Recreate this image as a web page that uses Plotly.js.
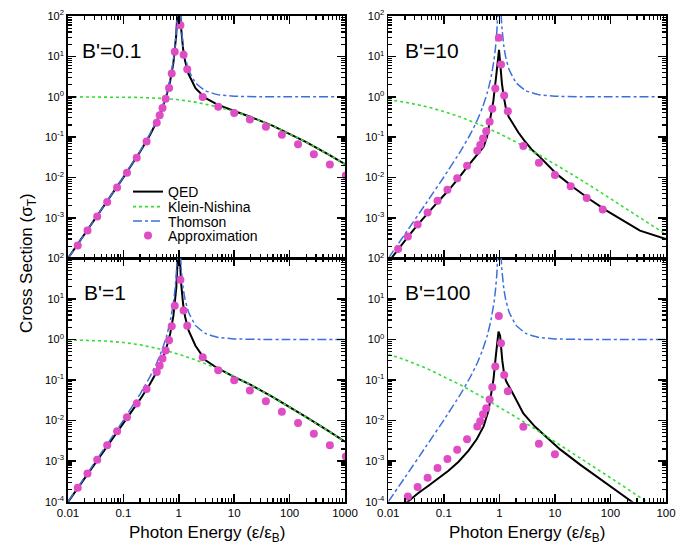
<!DOCTYPE html>
<html>
<head>
<meta charset="utf-8">
<script src="https://cdn.plot.ly/plotly-3.0.1.min.js"></script>
<style>html,body{margin:0;padding:0;background:#fff;}#chart{width:692px;height:557px;}</style>
</head>
<body>
<div id="chart"></div>
<script>
// ---------- data ----------
const panelLabels = ["B'=0.1", "B'=10", "B'=1", "B'=100"];

// Thomson (magnetic) cross section — same in every panel
const thomsonX = [0.01, 0.02, 0.05, 0.1, 0.2, 0.3, 0.4, 0.5, 0.6, 0.7, 0.8, 0.85, 0.9, 0.95, 0.98, 1.02, 1.05, 1.1, 1.2, 1.3, 1.5, 2, 3, 5, 10, 30, 100, 1000];
const thomsonY = [1.0e-4, 4.0e-4, 2.52e-3, 0.0103, 0.0451, 0.1185, 0.263, 0.556, 1.195, 2.81, 8.1, 16.2, 40.6, 180, 1200, 1300, 220, 60.6, 18.1, 9.55, 4.68, 2.22, 1.41, 1.13, 1.03, 1.003, 1.0, 1.0];

// Klein-Nishina
const knX = [0.01, 0.02, 0.05, 0.1, 0.2, 0.5, 1, 2, 5, 10, 20, 50, 100, 200, 500, 1000];
const knY_01  = [0.998, 0.996, 0.990, 0.9805, 0.962, 0.9115, 0.841, 0.737, 0.563, 0.431, 0.314, 0.191, 0.1228, 0.0754, 0.0376, 0.0215];
const knY_1   = [0.9805, 0.962, 0.9115, 0.841, 0.737, 0.563, 0.431, 0.314, 0.191, 0.1228, 0.0754, 0.0376, 0.0215, 0.0121, 0.00554, 0.00303];
const knY_10  = [0.841, 0.737, 0.563, 0.431, 0.314, 0.191, 0.1228, 0.0754, 0.0376, 0.0215, 0.0121, 0.00554, 0.00303, 0.00165, 0.000728, 0.00039];
const knY_100 = [0.431, 0.314, 0.191, 0.1228, 0.0754, 0.0376, 0.0215, 0.0121, 0.00554, 0.00303, 0.00165, 0.000728, 0.00039, 0.000208, 0.0000901, 0.0000477];

// QED
const qedX_lo = [0.01, 0.02, 0.05, 0.1, 0.2, 0.3, 0.4, 0.5, 0.6, 0.7, 0.8, 0.85, 0.9, 0.95, 0.98, 1.02, 1.05, 1.1, 1.2, 1.3, 1.5, 2, 3, 5, 10, 20, 50, 100, 200, 500, 1000];
const qedY_01 = [1.0e-4, 4.0e-4, 2.49e-3, 0.0101, 0.0434, 0.112, 0.244, 0.507, 1.07, 2.49, 7.05, 14.0, 34.7, 153, 1020, 1090, 184, 50.3, 14.75, 7.64, 3.65, 1.64, 0.935, 0.636, 0.444, 0.315, 0.191, 0.1228, 0.0754, 0.0376, 0.0215];
const qedY_1  = [9.8e-5, 3.85e-4, 2.30e-3, 8.66e-3, 0.0332, 0.0786, 0.160, 0.313, 0.63, 1.40, 3.85, 7.5, 18.5, 80, 525, 553, 93, 24.8, 7.15, 3.63, 1.66, 0.70, 0.31, 0.195, 0.12, 0.0756, 0.0376, 0.0215, 0.0121, 0.00554, 0.00303];
const qedX_10 = [0.01, 0.015, 0.0225, 0.0337, 0.051, 0.077, 0.116, 0.174, 0.262, 0.4, 0.52, 0.6, 0.68, 0.78, 0.87, 0.94, 0.985, 1.036, 1.11, 1.2, 1.3, 1.47, 1.8, 2.2, 2.9, 3.9, 5.4, 10.7, 21.4, 42.8, 85, 170, 340, 1000];
const qedY_10 = [8.0e-5, 1.7e-4, 3.4e-4, 6.7e-4, 1.3e-3, 2.45e-3, 4.5e-3, 8.7e-3, 0.0182, 0.037, 0.058, 0.103, 0.25, 0.8, 3.0, 9.0, 14.5, 6.7, 2.15, 1.0, 0.55, 0.32, 0.20, 0.13, 0.078, 0.048, 0.032, 0.0123, 5.75e-3, 2.85e-3, 1.52e-3, 8.6e-4, 4.85e-4, 3.0e-4];
const qedX_100 = [0.02, 0.0223, 0.0348, 0.0528, 0.080, 0.121, 0.184, 0.278, 0.393, 0.519, 0.638, 0.713, 0.785, 0.864, 0.935, 0.965, 1.03, 1.07, 1.13, 1.22, 1.32, 1.79, 2.7, 4.4, 7.1, 12.4, 28.4, 57, 113, 243, 300];
const qedY_100 = [8.8e-5, 1.0e-4, 1.64e-4, 2.48e-4, 3.77e-4, 5.8e-4, 9.7e-4, 1.82e-3, 3.5e-3, 7.2e-3, 0.0177, 0.0414, 0.107, 0.40, 1.1, 1.55, 1.23, 0.63, 0.295, 0.138, 0.094, 0.044, 0.015, 7.0e-3, 3.9e-3, 1.95e-3, 8.2e-4, 4.2e-4, 2.17e-4, 1.0e-4, 7.8e-5];

// Approximation (dots)
const apX_01 = [0.015, 0.0225, 0.0337, 0.051, 0.077, 0.116, 0.174, 0.262, 0.40, 0.452, 0.508, 0.58, 0.667, 0.745, 0.845, 1.07, 1.22, 1.42, 2.7, 5.15, 10, 19.2, 37.3, 72.5, 142, 274, 533, 1035];
const apY_01 = [2.06e-4, 4.85e-4, 1.08e-3, 2.49e-3, 5.65e-3, 0.0131, 0.0308, 0.0776, 0.228, 0.347, 0.53, 0.89, 1.66, 3.76, 13, 59, 11, 4.77, 0.98, 0.57, 0.394, 0.274, 0.180, 0.114, 0.067, 0.0379, 0.021, 0.0112];
const apX_1 = [0.015, 0.0225, 0.0337, 0.051, 0.077, 0.116, 0.174, 0.262, 0.40, 0.452, 0.508, 0.58, 0.667, 0.745, 0.845, 1.07, 1.22, 1.42, 2.7, 5.15, 10, 19.2, 37.3, 72.5, 142, 274, 533, 1035];
const apY_1 = [2.22e-4, 4.94e-4, 1.08e-3, 2.45e-3, 5.44e-3, 0.0121, 0.0264, 0.0596, 0.157, 0.226, 0.341, 0.53, 0.96, 2.1, 6.8, 29.5, 5.2, 2.17, 0.365, 0.174, 0.098, 0.0554, 0.0301, 0.0164, 8.75e-3, 4.76e-3, 2.45e-3, 1.31e-3];
const apX_10 = [0.015, 0.0225, 0.0337, 0.051, 0.077, 0.116, 0.174, 0.262, 0.40, 0.452, 0.508, 0.58, 0.667, 0.745, 0.845, 0.978, 1.07, 1.22, 1.42, 2.7, 5.15, 10, 19.2, 37.3, 72.5];
const apY_10 = [1.70e-4, 3.47e-4, 6.9e-4, 1.37e-3, 2.66e-3, 4.97e-3, 9.6e-3, 0.0196, 0.046, 0.064, 0.092, 0.14, 0.24, 0.507, 1.6, 28.8, 6.3, 1.07, 0.44, 0.06, 0.0231, 0.0116, 6.1e-3, 3.13e-3, 1.61e-3];
const apX_100 = [0.0225, 0.0337, 0.051, 0.077, 0.116, 0.174, 0.262, 0.40, 0.452, 0.508, 0.58, 0.667, 0.745, 0.845, 0.978, 1.07, 1.22, 1.42, 2.7, 5.15, 10];
const apY_100 = [1.34e-4, 2.30e-4, 3.92e-4, 6.78e-4, 1.13e-3, 1.92e-3, 3.46e-3, 7.1e-3, 9.6e-3, 0.0143, 0.0202, 0.033, 0.0665, 0.215, 3.8, 0.8, 0.132, 0.053, 7.0e-3, 2.7e-3, 1.47e-3];

// tick labels
const xTickVals = [0.01, 0.1, 1, 10, 100, 1000];
const xTickTextLeft = ['0.01', '0.1', '1', '10', '100', '1000'];
const xTickTextRight = ['0.01', '0.1', '1', '10', '100', '100'];
const yTickValsBottom = [1e-4, 1e-3, 1e-2, 1e-1, 1, 10, 100];
const yTickTextBottom = ['10<sup>-4</sup>', '10<sup>-3</sup>', '10<sup>-2</sup>', '10<sup>-1</sup>', '10<sup>0</sup>', '10<sup>1</sup>', '10<sup>2</sup>'];
const yTickValsTop = [1e-3, 1e-2, 1e-1, 1, 10, 100];
const yTickTextTop = ['10<sup>-3</sup>', '10<sup>-2</sup>', '10<sup>-1</sup>', '10<sup>0</sup>', '10<sup>1</sup>', '10<sup>2</sup>'];

// ---------- styling ----------
const FONT = 'Liberation Sans, Arial, Helvetica, sans-serif';
const C_QED = '#000000', C_KN = '#33dd33', C_TH = '#3d6fdc', C_AP = '#e04cc4';

const panels = [
  {xa: 'x',  ya: 'y',  kn: knY_01,  qx: qedX_lo, qy: qedY_01, ax: apX_01, ay: apY_01},
  {xa: 'x2', ya: 'y2', kn: knY_10,  qx: qedX_10, qy: qedY_10, ax: apX_10, ay: apY_10},
  {xa: 'x3', ya: 'y3', kn: knY_1,   qx: qedX_lo, qy: qedY_1,  ax: apX_1,  ay: apY_1},
  {xa: 'x4', ya: 'y4', kn: knY_100, qx: qedX_100, qy: qedY_100, ax: apX_100, ay: apY_100}
];

const traces = [];
panels.forEach((p, i) => {
  const sl = (i === 0);
  traces.push({x: p.qx, y: p.qy, xaxis: p.xa, yaxis: p.ya, mode: 'lines', name: 'QED', showlegend: sl,
    legend: 'legend', line: {color: C_QED, width: 2}});
  traces.push({x: knX, y: p.kn, xaxis: p.xa, yaxis: p.ya, mode: 'lines', name: 'Klein-Nishina', showlegend: sl,
    legend: 'legend2', line: {color: C_KN, width: 1.6, dash: 'dot'}});
  traces.push({x: thomsonX, y: thomsonY, xaxis: p.xa, yaxis: p.ya, mode: 'lines', name: 'Thomson', showlegend: sl,
    legend: 'legend3', line: {color: C_TH, width: 1.5, dash: 'dashdot', shape: 'spline', smoothing: 0.3}});
  traces.push({x: p.ax, y: p.ay, xaxis: p.xa, yaxis: p.ya, mode: 'markers', name: 'Approximation', showlegend: sl,
    legend: 'legend4', marker: {color: C_AP, size: 8}});
});

const W = 692, H = 557;
const xL = [68 / W, 345 / W], xR = [388.3 / W, 666 / W];
const yT = [1 - 258.3 / H, 1 - 16 / H], yB = [1 - 501.7 / H, 1 - 258.3 / H];

function xaxis(domain, anchor, showLabels, ticktext) {
  return {
    type: 'log', range: [-2, 3], domain: domain, anchor: anchor,
    tickmode: 'array', tickvals: xTickVals, ticktext: ticktext, showticklabels: showLabels,
    ticks: 'inside', ticklen: 8, tickwidth: 1.5, tickcolor: '#000',
    minor: {ticks: 'inside', ticklen: 4, tickwidth: 1.2, tickcolor: '#000', dtick: 'D1', showgrid: false},
    showline: true, linewidth: 1.8, linecolor: '#000', mirror: 'allticks',
    showgrid: false, zeroline: false, automargin: false,
    tickfont: {family: FONT, size: 11.5, color: '#000'}
  };
}
function yaxis(domain, anchor, tickvals, ticktext) {
  return {
    type: 'log', range: [-4, 2], domain: domain, anchor: anchor,
    tickmode: 'array', tickvals: tickvals, ticktext: ticktext,
    ticks: 'inside', ticklen: 8, tickwidth: 1.5, tickcolor: '#000',
    minor: {ticks: 'inside', ticklen: 4, tickwidth: 1.2, tickcolor: '#000', dtick: 'D1', showgrid: false},
    showline: true, linewidth: 1.8, linecolor: '#000', mirror: 'allticks',
    showgrid: false, zeroline: false, automargin: false,
    tickfont: {family: FONT, size: 11, color: '#000'}
  };
}

const ann = [];
const labelPos = [[80, 50], [403, 50], [82, 292], [403, 292]];
panelLabels.forEach((t, i) => {
  ann.push({text: t, xref: 'paper', yref: 'paper', x: labelPos[i][0] / W, y: 1 - labelPos[i][1] / H,
    xanchor: 'left', yanchor: 'middle', showarrow: false, font: {family: FONT, size: 21, color: '#000'}});
});
ann.push({text: 'Photon Energy (ε/ε<sub>B</sub>)', xref: 'paper', yref: 'paper', x: 206.5 / W, y: 1 - 534 / H,
  xanchor: 'center', yanchor: 'middle', showarrow: false, font: {family: FONT, size: 17, color: '#000'}});
ann.push({text: 'Photon Energy (ε/ε<sub>B</sub>)', xref: 'paper', yref: 'paper', x: 527 / W, y: 1 - 534 / H,
  xanchor: 'center', yanchor: 'middle', showarrow: false, font: {family: FONT, size: 17, color: '#000'}});
ann.push({text: 'Cross Section (σ<sub>T</sub>)', xref: 'paper', yref: 'paper', x: 28 / W, y: 1 - 263 / H,
  xanchor: 'center', yanchor: 'middle', textangle: -90, showarrow: false, font: {family: FONT, size: 17, color: '#000'}});

// one small legend per row, so rows sit as close as in the reference
const legendRows = [192, 207, 221.5, 236];
function legendBox(row) {
  return {x: 128 / W, y: 1 - row / H, xanchor: 'left', yanchor: 'middle', bgcolor: 'rgba(0,0,0,0)',
    font: {family: FONT, size: 14, color: '#000'}, itemwidth: 30, borderwidth: 0};
}

const layout = {
  width: W, height: H,
  margin: {l: 0, r: 0, t: 0, b: 0},
  paper_bgcolor: '#fff', plot_bgcolor: '#fff',
  font: {family: FONT, color: '#000'},
  showlegend: true,
  legend: legendBox(legendRows[0]),
  legend2: legendBox(legendRows[1]),
  legend3: legendBox(legendRows[2]),
  legend4: legendBox(legendRows[3]),
  xaxis:  xaxis(xL, 'y',  false, xTickTextLeft),
  yaxis:  yaxis(yT, 'x',  yTickValsTop, yTickTextTop),
  xaxis2: xaxis(xR, 'y2', false, xTickTextRight),
  yaxis2: yaxis(yT, 'x2', yTickValsTop, yTickTextTop),
  xaxis3: xaxis(xL, 'y3', true,  xTickTextLeft),
  yaxis3: yaxis(yB, 'x3', yTickValsBottom, yTickTextBottom),
  xaxis4: xaxis(xR, 'y4', true,  xTickTextRight),
  yaxis4: yaxis(yB, 'x4', yTickValsBottom, yTickTextBottom),
  annotations: ann
};

Plotly.newPlot('chart', traces, layout, {staticPlot: true, displayModeBar: false});
</script>
</body>
</html>
